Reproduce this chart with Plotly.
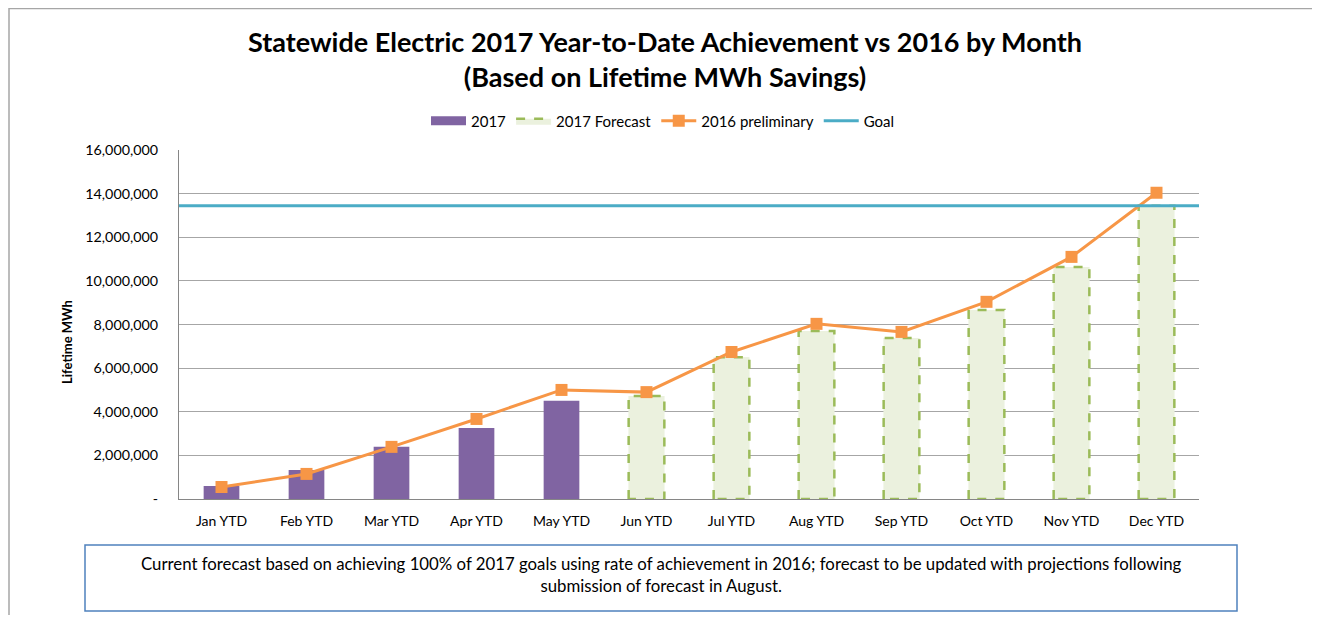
import plotly.graph_objects as go

# data
months = ["Jan YTD", "Feb YTD", "Mar YTD", "Apr YTD", "May YTD", "Jun YTD",
          "Jul YTD", "Aug YTD", "Sep YTD", "Oct YTD", "Nov YTD", "Dec YTD"]
actual_2017 = [600000, 1330000, 2390000, 3260000, 4500000,
               None, None, None, None, None, None, None]
forecast_2017 = [None, None, None, None, None, 4720000,
                 6500000, 7700000, 7380000, 8670000, 10640000, 13440000]
prelim_2016 = [550000, 1150000, 2390000, 3670000, 5000000, 4900000,
               6740000, 8030000, 7660000, 9040000, 11100000, 14040000]
goal = 13440000

y_ticks = [0, 2000000, 4000000, 6000000, 8000000, 10000000, 12000000, 14000000, 16000000]
y_labels = ["-"] + [f"{v:,}" for v in y_ticks[1:]]

FONT = "Lato"
BAR_W = 0.42
xs = list(range(len(months)))

# page has an 8px body margin, so work in figure pixels and keep clear of scrollbars
W, H = 1304, 607
L, T, PW, PH = 171, 142, 1020, 349


def px(xp):
    # page x -> paper x
    return (xp - 8 - L) / PW


def py(yp):
    # page y -> paper y
    return (T + PH - (yp - 8)) / PH


fig = go.Figure()

# 2017 actual bars
fig.add_trace(go.Bar(
    x=xs, y=actual_2017, width=BAR_W, name="2017",
    marker=dict(color="#8064A2", line=dict(width=0)),
    showlegend=False, legendgroup="a"
))
# legend swatch for 2017 (wide rectangle like the original)
fig.add_trace(go.Scatter(
    x=[None], y=[None], mode="lines", name="2017",
    line=dict(color="#8064A2", width=9), legendgroup="a", legendrank=1
))

# forecast bars (fill)
fig.add_trace(go.Bar(
    x=xs, y=forecast_2017, width=BAR_W, name="2017 Forecast",
    marker=dict(color="#EBF1DE", line=dict(width=0)),
    showlegend=False, legendgroup="fc"
))

# dashed outline for forecast bars, built from the same values
ox, oy = [], []
for i, v in zip(xs, forecast_2017):
    if v is None:
        continue
    ox += [i - BAR_W / 2, i - BAR_W / 2, i + BAR_W / 2, i + BAR_W / 2, i - BAR_W / 2, None]
    oy += [0, v, v, 0, 0, None]
fig.add_trace(go.Scatter(
    x=ox, y=oy, mode="lines", name="2017 Forecast",
    line=dict(color="#9BBB59", width=2.5, dash="dash"),
    fill="toself", fillcolor="#EBF1DE",
    legendgroup="fc", legendrank=2, hoverinfo="skip"
))

# goal line across the full plot width
fig.add_trace(go.Scatter(
    x=[0, 1], y=[goal, goal], xaxis="x2", mode="lines", name="Goal",
    line=dict(color="#4BACC6", width=3), legendrank=4
))

# 2016 preliminary
fig.add_trace(go.Scatter(
    x=xs, y=prelim_2016, mode="lines+markers", name="2016 preliminary",
    line=dict(color="#F79646", width=3),
    marker=dict(symbol="square", size=12, color="#F79646"),
    legendrank=3
))

fig.update_layout(
    width=W, height=H,
    margin=dict(l=L, r=W - L - PW, t=T, b=H - T - PH),
    paper_bgcolor="white", plot_bgcolor="white",
    font=dict(family=FONT, size=14, color="#000000"),
    barmode="overlay",
    title=dict(
        text="<b>Statewide Electric 2017 Year-to-Date Achievement vs 2016 by Month<br>(Based on Lifetime MWh Savings)</b>",
        x=(665 - 8) / W, xanchor="center", y=1 - (52 - 8) / H, yanchor="middle",
        font=dict(family=FONT, size=27, color="#000000")
    ),
    legend=dict(
        orientation="h", x=px(663), xanchor="center", y=py(121), yanchor="middle",
        font=dict(family=FONT, size=15), traceorder="normal",
        itemwidth=35, bgcolor="rgba(0,0,0,0)"
    ),
    xaxis=dict(
        range=[-0.5, 11.5], tickvals=xs, ticktext=months,
        showgrid=False, zeroline=False, showline=True, linecolor="#868686",
        linewidth=1, ticks="", tickfont=dict(size=14), ticklabelstandoff=9
    ),
    xaxis2=dict(range=[0, 1], overlaying="x", visible=False),
    yaxis=dict(
        range=[0, 16000000], tickvals=y_ticks, ticktext=y_labels,
        showgrid=True, gridcolor="#A6A6A6", gridwidth=1, zeroline=False,
        showline=True, linecolor="#868686", linewidth=1,
        ticks="", tickfont=dict(size=14.3), ticklabelstandoff=17
    ),
    annotations=[
        dict(text="<b>Lifetime MWh</b>", textangle=-90, xref="paper", yref="paper",
             x=px(67), y=py(342), xanchor="center", yanchor="middle",
             showarrow=False, font=dict(size=13)),
        dict(text="Current forecast based on achieving 100% of 2017 goals using rate of achievement in 2016; forecast to be updated with projections following<br>submission of forecast in August.",
             xref="paper", yref="paper", x=px(661), y=py(574),
             xanchor="center", yanchor="middle",
             showarrow=False, font=dict(size=16.8), align="center"),
    ],
    shapes=[
        # outer chart border (right/bottom fall outside the figure)
        dict(type="rect", xref="paper", yref="paper",
             x0=px(9), x1=px(1500), y0=py(800), y1=py(8.5),
             line=dict(color="#A6A6A6", width=1.5), layer="below"),
        # note box
        dict(type="rect", xref="paper", yref="paper",
             x0=px(85), x1=px(1237), y0=py(611), y1=py(545),
             line=dict(color="#4F81BD", width=1.5)),
    ],
)

fig.write_html("out.html")
